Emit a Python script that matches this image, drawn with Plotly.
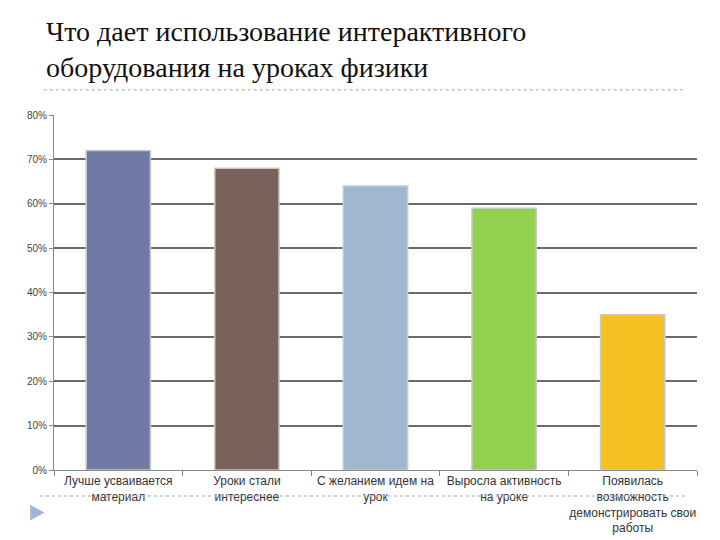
import plotly.graph_objects as go

# survey data
categories = [
    "Лучше усваивается<br>материал",
    "Уроки стали<br>интереснее",
    "С желанием идем на<br>урок",
    "Выросла активность<br>на уроке",
    "Появилась<br>возможность<br>демонстрировать свои<br>работы",
]
values = [0.72, 0.68, 0.64, 0.59, 0.35]
bar_colors = ["#6f7ba4", "#7a625a", "#a0b8cf", "#92d050", "#f5c122"]
y_ticks = [0, 0.1, 0.2, 0.3, 0.4, 0.5, 0.6, 0.7, 0.8]
y_tick_labels = ["0%", "10%", "20%", "30%", "40%", "50%", "60%", "70%", "80%"]

title_text = "Что дает использование интерактивного<br>оборудования на уроках физики"

fig = go.Figure()
fig.add_trace(
    go.Bar(x=categories, y=values,
           marker=dict(color=bar_colors, line=dict(color="#c9c9c9", width=1.5)),
           width=0.5, hoverinfo="skip")
)

# the page body adds 8px, so margins are set 8px smaller at top/left
fig.update_layout(
    width=720, height=540,
    paper_bgcolor="white", plot_bgcolor="white",
    margin=dict(l=46, r=31, t=107, b=78, autoexpand=False),
    showlegend=False,
    font=dict(family="Liberation Sans", size=11, color="#333333"),
    annotations=[
        dict(text=title_text, xref="paper", yref="paper", x=-0.016, y=1.0,
             xanchor="left", yanchor="bottom", yshift=30, align="left", showarrow=False,
             font=dict(family="Liberation Serif, serif", size=28, color="#111111"))
    ],
    shapes=[
        # dotted rule under the title
        dict(type="line", xref="paper", yref="paper", x0=-0.016, x1=0.982, y0=1.071, y1=1.071,
             line=dict(color="#c0c0c0", width=1.5, dash="dot")),
        # dotted rule at the bottom
        dict(type="line", xref="paper", yref="paper", x0=-0.022, x1=0.982, y0=-0.073, y1=-0.073,
             line=dict(color="#c0c0c0", width=1.5, dash="dot")),
        # slide bullet marker
        dict(type="path", xref="paper", yref="paper",
             path="M -0.037 -0.098 L -0.015 -0.12 L -0.037 -0.142 Z",
             fillcolor="#9fb6d4", line=dict(width=0)),
    ],
)

fig.update_xaxes(
    automargin=False, tickangle=0,
    showline=True, linecolor="#888888", linewidth=1,
    ticks="outside", tickson="boundaries", ticklen=5, tickcolor="#888888",
    tickfont=dict(size=12, color="#333333"), showgrid=False,
)
fig.update_yaxes(
    automargin=False,
    range=[0, 0.8], tickvals=y_ticks, ticktext=y_tick_labels,
    showline=True, linecolor="#888888", linewidth=1,
    ticks="outside", ticklen=4, tickcolor="#888888",
    tickfont=dict(size=10, color="#444444"),
    showgrid=True, gridcolor="#6a6a6a", gridwidth=1.5, zeroline=False,
)

fig.write_html("out.html")
